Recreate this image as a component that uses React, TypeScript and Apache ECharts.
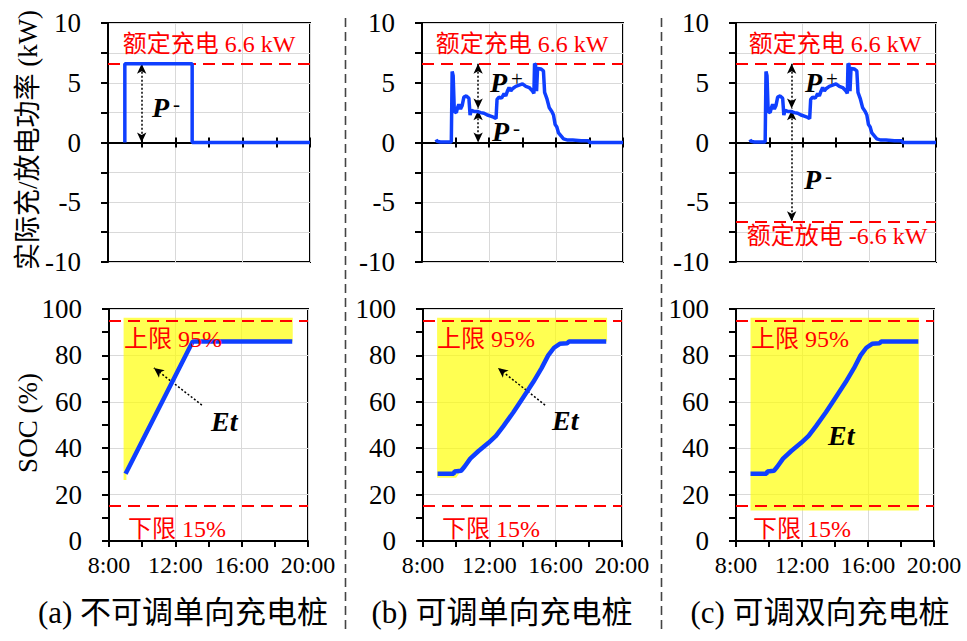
import React, { useEffect, useRef } from 'react';
import * as echarts from 'echarts';

// ---------- axes ----------
const HOUR_MIN = 8;
const HOUR_MAX = 20;
const HOUR_STEP = 4;
const timeLabels = ['8:00', '12:00', '16:00', '20:00'];
const POWER_MIN = -10;
const POWER_MAX = 10;
const POWER_STEP = 5;
const SOC_MIN = 0;
const SOC_MAX = 100;
const SOC_STEP = 20;

// ---------- limits ----------
const RATED_CHARGE = 6.6;
const RATED_DISCHARGE = -6.6;
const SOC_UPPER = 95;
const SOC_LOWER = 15;

// ---------- data ----------
// (a) non-adjustable unidirectional pile: power [hour, kW]
const powerA: number[][] = [[9, 0], [9, 6.6], [13, 6.6], [13, 0], [20, 0]];
// (a) SOC [hour, %]
const socA: number[][] = [[9, 29], [13.05, 86], [19.05, 86]];
// (b)/(c) adjustable piles: power [hour, kW]
const powerBC: number[][] = [
  [8.84, 0.25], [8.9, 0.1], [9.1, 0.05], [9.75, 0.05], [9.8, 5.95], [9.86, 5.6], [9.93, 2.6],
  [10.05, 2.5], [10.12, 2.9], [10.2, 3.2], [10.3, 2.8], [10.4, 3.1], [10.5, 3.8], [10.65, 3.9],
  [10.8, 3.7], [10.87, 2.3], [10.95, 2.7], [11.1, 2.6], [11.3, 2.6], [11.5, 2.5], [11.7, 2.45],
  [11.9, 2.3], [12.1, 2.2], [12.3, 2.1], [12.42, 2.0], [12.48, 3.6], [12.6, 3.8], [12.75, 3.7],
  [12.9, 4.1], [13.0, 3.9], [13.1, 4.3], [13.2, 4.6], [13.3, 4.3], [13.4, 4.5], [13.6, 4.7], [13.8, 4.8],
  [14.0, 4.9], [14.2, 4.7], [14.4, 4.6], [14.6, 4.3], [14.68, 4.1], [14.72, 6.6], [14.78, 6.5],
  [14.84, 4.3], [14.9, 6.2], [15.1, 6.15], [15.25, 6.0], [15.32, 4.2], [15.45, 3.7], [15.6, 2.9],
  [15.75, 2.6], [15.85, 2.3], [15.95, 1.5], [16.05, 1.3], [16.15, 0.8], [16.3, 0.55], [16.45, 0.3],
  [16.7, 0.2], [17.0, 0.2], [17.5, 0.15], [17.95, 0.15], [18.0, 0], [20, 0],
];
// (b)/(c) SOC [hour, %]
const socBC: number[][] = [
  [8.88, 29], [9.85, 29], [9.9, 30], [10.3, 30.3], [10.5, 32], [10.85, 35.5], [11.35, 38.8],
  [11.95, 42.3], [12.4, 45.3], [12.85, 49.5], [13.45, 55.5], [14.05, 62], [14.65, 68.5],
  [15.15, 74.5], [15.55, 80], [15.9, 83.3], [16.25, 85], [16.7, 85.2], [16.8, 86], [19.05, 86],
];
// yellow feasible-energy regions [hour, %]
const yellowA: number[][] = [
  [8.88, 26.3], [8.88, 96.2], [19.08, 96.2], [19.08, 86], [13.05, 86], [9.05, 28.5], [9.05, 26.3],
];
const yellowB: number[][] = [
  [8.85, 27.3], [8.85, 96.2], [19.1, 96.2], [19.1, 86], [16.8, 86], [16.7, 85.2], [16.25, 85],
  [15.9, 83.3], [15.55, 80], [15.15, 74.5], [14.65, 68.5], [14.05, 62], [13.45, 55.5],
  [12.85, 49.5], [12.4, 45.3], [11.95, 42.3], [11.35, 38.8], [10.85, 35.5], [10.5, 32],
  [10.3, 30.3], [10.0, 27.3],
];
const yellowC: number[][] = [[8.88, 13.1], [8.88, 96.2], [19.08, 96.2], [19.08, 13.1]];

// annotation arrows [[from],[to]]
const powerArrowsA: number[][][] = [[[10, 6.6], [10, 0]]];
const powerArrowsB: number[][][] = [[[11.35, 6.6], [11.35, 2.85]], [[11.35, 2.7], [11.35, 0]]];
const powerArrowsC: number[][][] = [[[11.34, 6.6], [11.34, 2.85]], [[11.34, 2.7], [11.34, -6.6]]];
const etArrowA: number[][] = [[13.6, 58.6], [10.71, 74.6]];
const etArrowB: number[][] = [[15.36, 58.6], [12.52, 74.6]];

const captions = ['(a) 不可调单向充电桩', '(b) 可调单向充电桩', '(c) 可调双向充电桩'];

// ---------- style ----------
const FONT = "'Liberation Serif', 'Noto Sans CJK SC', serif";
const BLUE = '#0f3fff';
const RED = '#ff0000';
const GRID_C = '#d9d9d9';

const gridRects = [
  { left: 108, top: 23, width: 202, height: 239 },
  { left: 422, top: 23, width: 201, height: 239 },
  { left: 736, top: 23, width: 200, height: 239 },
  { left: 109, top: 309, width: 199, height: 232 },
  { left: 423, top: 309, width: 199, height: 232 },
  { left: 736, top: 309, width: 198, height: 232 },
];

const blackLine = { color: '#000', width: 2 };

function xTop(i: number, pos: 'bottom' | 'top') {
  return {
    type: 'value', gridIndex: i, position: pos,
    min: HOUR_MIN, max: HOUR_MAX, interval: HOUR_STEP,
    axisLine: { show: true, onZero: true, onZeroAxisIndex: i, lineStyle: blackLine },
    axisTick: { show: true, length: 5, lineStyle: blackLine },
    minorTick: { show: true, splitNumber: 2, length: 5, lineStyle: blackLine },
    axisLabel: { show: false },
    splitLine: { show: pos === 'bottom', lineStyle: { color: GRID_C, width: 1 } },
    minorSplitLine: { show: false },
  };
}
function xBottom(i: number) {
  return {
    type: 'value', gridIndex: i, position: 'bottom',
    min: HOUR_MIN, max: HOUR_MAX, interval: HOUR_STEP,
    axisLine: { show: true, onZero: false, lineStyle: blackLine },
    axisTick: { show: true, length: 6, lineStyle: blackLine },
    minorTick: { show: true, splitNumber: 2, length: 6, lineStyle: blackLine },
    axisLabel: {
      show: true, color: '#000', fontFamily: FONT, fontSize: 24, margin: 12,
      formatter: (v: number) => timeLabels[Math.round((v - HOUR_MIN) / HOUR_STEP)] ?? '',
    },
    splitLine: { show: true, lineStyle: { color: GRID_C, width: 1 } },
  };
}
function yTop(i: number) {
  return {
    type: 'value', gridIndex: i, min: POWER_MIN, max: POWER_MAX, interval: POWER_STEP,
    axisLine: { show: true, onZero: false, lineStyle: blackLine },
    axisTick: { show: true, length: 7, lineStyle: blackLine },
    minorTick: { show: true, splitNumber: 2, length: 7, lineStyle: blackLine },
    axisLabel: { color: '#000', fontFamily: FONT, fontSize: 27, margin: 27 },
    splitLine: { show: true, lineStyle: { color: GRID_C, width: 1 } },
    minorSplitLine: { show: true, lineStyle: { color: GRID_C, width: 1 } },
  };
}
function yBottom(i: number) {
  return {
    type: 'value', gridIndex: i, min: SOC_MIN, max: SOC_MAX, interval: SOC_STEP,
    axisLine: { show: true, onZero: false, lineStyle: blackLine },
    axisTick: { show: true, length: 7, lineStyle: blackLine },
    minorTick: { show: true, splitNumber: 2, length: 7, lineStyle: blackLine },
    axisLabel: { color: '#000', fontFamily: FONT, fontSize: 27, margin: 27 },
    splitLine: { show: true, lineStyle: { color: GRID_C, width: 1 } },
  };
}

const dashRed = { color: RED, type: [12, 7], width: 2 };
const dotBlack = { color: '#000', type: [2, 2], width: 1.5 };

function refLine(v: number) {
  return { yAxis: v, lineStyle: dashRed, symbol: 'none' };
}
function arrowPair(a: number[], b: number[], both: boolean) {
  return [
    { coord: a, symbol: both ? 'arrow' : 'none', symbolSize: [7, 10], lineStyle: dotBlack },
    { coord: b, symbol: 'arrow', symbolSize: [7, 10] },
  ];
}

function powerSeries(i: number, data: number[][], refs: number[], arrows: number[][][]) {
  return {
    type: 'line', xAxisIndex: i, yAxisIndex: i, data, showSymbol: false, z: 5,
    lineStyle: { color: BLUE, width: 3.5 }, itemStyle: { color: BLUE },
    markLine: {
      silent: true, symbol: 'none', label: { show: false }, animation: false,
      data: [...refs.map(refLine), ...arrows.map(([a, b]) => arrowPair(a, b, true))],
    },
  };
}
function socSeries(i: number, data: number[][], etArrow: number[][] | null) {
  const md: any[] = [refLine(SOC_UPPER), refLine(SOC_LOWER)];
  if (etArrow) md.push(arrowPair(etArrow[0], etArrow[1], false));
  return {
    type: 'line', xAxisIndex: i, yAxisIndex: i, data, showSymbol: false, z: 5,
    lineStyle: { color: BLUE, width: 4.5 }, itemStyle: { color: BLUE },
    markLine: { silent: true, symbol: 'none', label: { show: false }, animation: false, data: md },
  };
}
function yellowSeries(i: number, poly: number[][]) {
  return {
    type: 'custom', xAxisIndex: i, yAxisIndex: i, z: 1, silent: true,
    data: [poly[0]],
    renderItem: (_p: any, api: any) => ({
      type: 'polygon',
      shape: { points: poly.map((pt) => api.coord(pt)) },
      style: { fill: '#ffff00', opacity: 0.68 },
    }),
  };
}

function text(t: string, x: number, y: number, size: number, color: string, align = 'center', extra: any = {}) {
  return {
    type: 'text', x, y, z: 100, ...extra,
    style: { text: t, fill: color, fontFamily: FONT, fontSize: size, align, verticalAlign: 'middle' },
  };
}
function pLabel(sign: string, x: number, y: number) {
  return {
    type: 'text', x, y, z: 100,
    style: {
      text: `{p|P}{s|${sign}}`, align: 'left', verticalAlign: 'middle',
      rich: {
        p: { fontFamily: FONT, fontSize: 28, fontWeight: 'bold', fontStyle: 'italic', fill: '#000' },
        s: { fontFamily: FONT, fontSize: 21, fill: '#000', verticalAlign: 'top', padding: [0, 0, 0, 4] },
      },
    },
  };
}
function etLabel(x: number, y: number) {
  return {
    type: 'text', x, y, z: 100,
    style: {
      text: 'Et', fill: '#000', fontFamily: FONT, fontSize: 28, fontWeight: 'bold',
      fontStyle: 'italic', align: 'left', verticalAlign: 'middle',
    },
  };
}

export default function App() {
  const ref = useRef<HTMLDivElement>(null);
  useEffect(() => {
    if (!ref.current) return;
    const chart = echarts.init(ref.current, undefined, { renderer: 'svg' });
    const option: any = {
      animation: false,
      backgroundColor: '#fff',
      grid: gridRects.map((g) => ({ ...g, show: true, borderColor: '#000', borderWidth: 2, backgroundColor: 'transparent' })),
      xAxis: [
        xTop(0, 'bottom'), xTop(1, 'bottom'), xTop(2, 'bottom'),
        xBottom(3), xBottom(4), xBottom(5),
        xTop(0, 'top'), xTop(1, 'top'), xTop(2, 'top'),
      ],
      yAxis: [yTop(0), yTop(1), yTop(2), yBottom(3), yBottom(4), yBottom(5)],
      series: [
        powerSeries(0, powerA, [RATED_CHARGE], powerArrowsA),
        powerSeries(1, powerBC, [RATED_CHARGE], powerArrowsB),
        powerSeries(2, powerBC, [RATED_CHARGE, RATED_DISCHARGE], powerArrowsC),
        yellowSeries(3, yellowA),
        yellowSeries(4, yellowB),
        yellowSeries(5, yellowC),
        socSeries(3, socA, etArrowA),
        socSeries(4, socBC, etArrowB),
        socSeries(5, socBC, null),
      ],
      graphic: [
        { type: 'line', shape: { x1: 345.5, y1: 18, x2: 345.5, y2: 630 }, style: { stroke: '#444', lineWidth: 1.6, lineDash: [9, 5] } },
        { type: 'line', shape: { x1: 661.5, y1: 18, x2: 661.5, y2: 630 }, style: { stroke: '#444', lineWidth: 1.6, lineDash: [9, 5] } },
        text('实际充/放电功率 (kW)', 28, 140, 27, '#000', 'center', { rotation: Math.PI / 2 }),
        text('SOC (%)', 28, 423, 27, '#000', 'center', { rotation: Math.PI / 2 }),
        text('额定充电 6.6 kW', 209, 44, 24, RED),
        text('额定充电 6.6 kW', 522, 44, 24, RED),
        text('额定充电 6.6 kW', 835, 44, 24, RED),
        text('额定放电 -6.6 kW', 837, 236, 24, RED),
        text('上限 95%', 124, 339, 24, RED, 'left'),
        text('上限 95%', 437, 339, 24, RED, 'left'),
        text('上限 95%', 751, 339, 24, RED, 'left'),
        text('下限 15%', 128, 529, 24, RED, 'left'),
        text('下限 15%', 442, 529, 24, RED, 'left'),
        text('下限 15%', 753, 529, 24, RED, 'left'),
        pLabel('-', 152, 107),
        pLabel('+', 490, 82),
        pLabel('-', 492, 131),
        pLabel('+', 805, 82),
        pLabel('-', 804, 179),
        etLabel(211, 421),
        etLabel(552, 420),
        etLabel(828, 435),
        text(captions[0], 183, 612, 31, '#000'),
        text(captions[1], 502, 612, 31, '#000'),
        text(captions[2], 820, 612, 31, '#000'),
      ],
    };
    chart.setOption(option);
    return () => chart.dispose();
  }, []);
  return <div ref={ref} style={{ position: 'absolute', left: 0, top: 0, width: 967, height: 641 }} />;
}
